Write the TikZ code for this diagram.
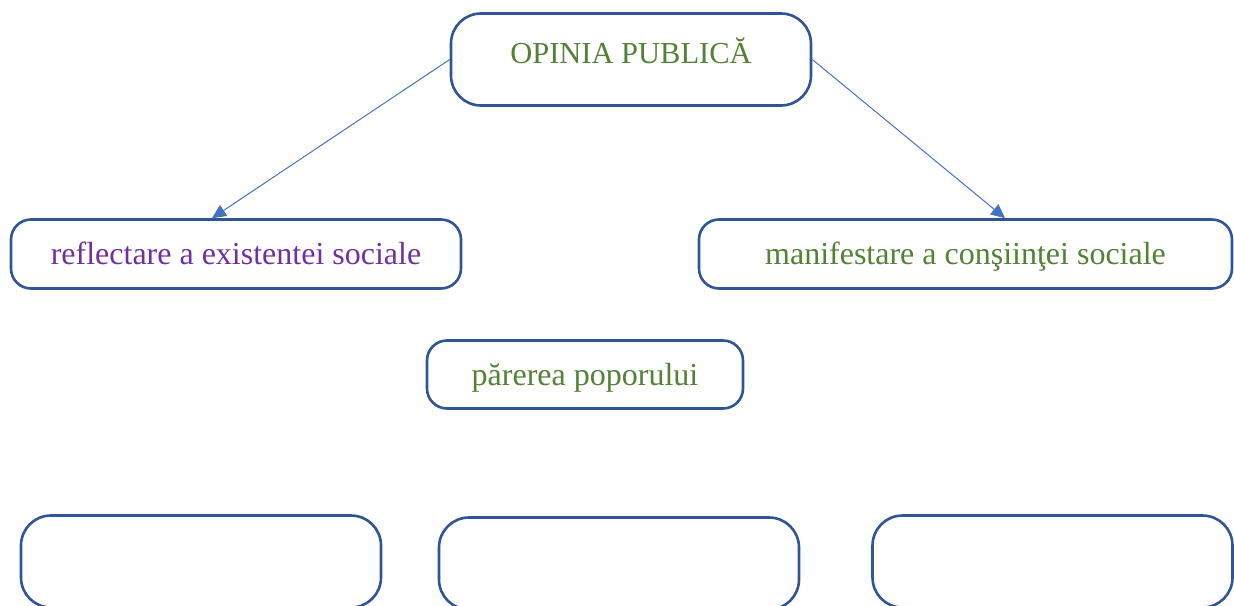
\documentclass[tikz,border=0pt]{standalone}
\usepackage{fontspec}
\setmainfont{Liberation Serif}
\usetikzlibrary{arrows.meta}
\definecolor{boxblue}{HTML}{2F5597}
\definecolor{lineblue}{HTML}{4472C4}
\definecolor{txtgreen}{HTML}{538135}
\definecolor{txtpurple}{HTML}{7030A0}
\tikzset{
	box/.style 2 args={draw=boxblue,line width=2.6pt,rounded corners=#1,fill=white,
		minimum width=#2,inner sep=0pt,text height=24pt,text depth=3pt,
		font=\fontsize{32}{38}\selectfont},
	link/.style={draw=lineblue,line width=1pt,-{Triangle[length=14pt,width=13pt]}}
}
\begin{document}
\begin{tikzpicture}[x=1pt,y=-1pt]
	\useasboundingbox (0,0) rectangle (1234,605);
	\clip (0,0) rectangle (1234,605);
	\node (opinie) [box={30pt}{360pt},minimum height=92pt,
		label={[text=txtgreen,font=\fontsize{30.5}{36}\selectfont,yshift=9pt]center:OPINIA PUBLICĂ}] at (631,59.5) {};
	\node (reflectare) [box={20pt}{450pt},minimum height=69pt,text=txtpurple] at (236,254) {reflectare a existentei sociale};
	\node (manifestare) [box={20pt}{533pt},minimum height=69pt,text=txtgreen] at (965.5,254) {manifestare a conşiinţei sociale};
	\node (parere) [box={20pt}{316pt},minimum height=68pt,text=txtgreen] at (585,374.5) {părerea poporului};

	\node (gol1) [box={30pt}{360pt},minimum height=92pt] at (201,561.5) {};
	\node (gol2) [box={30pt}{360pt},minimum height=92pt] at (619,563.5) {};
	\node (gol3) [box={30pt}{360pt},minimum height=92pt] at (1052.5,561.5) {};

	\draw [link] (opinie.west) -- ([xshift=-24pt]reflectare.north);
	\draw [link] (opinie.east) -- ([xshift=39.5pt]manifestare.north);
\end{tikzpicture}
\end{document}
